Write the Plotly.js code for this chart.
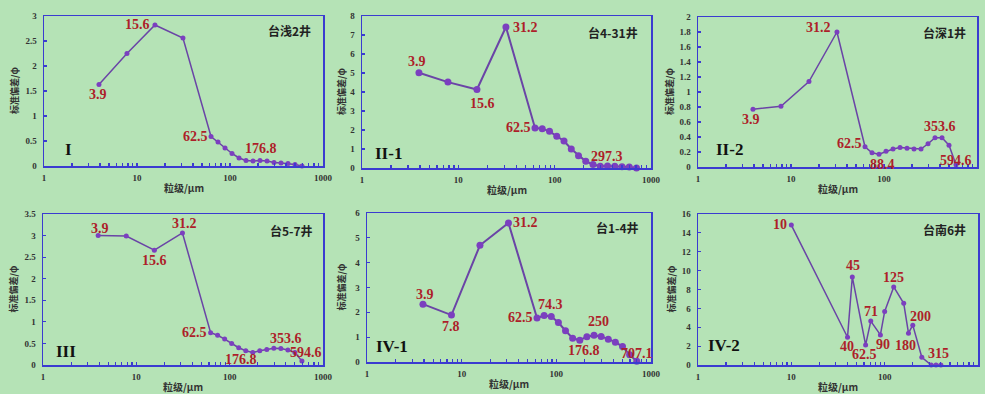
<!DOCTYPE html>
<html>
<head>
<meta charset="utf-8">
<script src="https://cdn.plot.ly/plotly-3.0.1.min.js"></script>
<style>html,body{margin:0;padding:0;background:#b5e3b6;}#chart{width:985px;height:394px;}</style>
</head>
<body>
<div id="chart"></div>
<script>
// ---- data ----
const x1 = [3.9,7.8,15.6,31.2,62.5,74.3,88.4,105.1,125,148.7,176.8,210.2,250,297.3,353.6,420.4,500,594.6];
const y1 = [1.63,2.25,2.82,2.56,0.59,0.48,0.36,0.25,0.16,0.11,0.10,0.11,0.10,0.07,0.06,0.05,0.03,0.0];
const x2 = [3.9,7.8,15.6,31.2,62.5,74.3,88.4,105.1,125,148.7,176.8,210.2,250,297.3,353.6,420.4,500,594.6,707.1];
const y2 = [5.01,4.52,4.13,7.42,2.11,2.07,1.93,1.67,1.42,1.0,0.65,0.35,0.18,0.09,0.1,0.09,0.07,0.05,0.0];
const x3 = [3.9,7.8,15.6,31.2,62.5,74.3,88.4,105.1,125,148.7,176.8,210.2,250,297.3,353.6,420.4,500,594.6];
const y3 = [0.77,0.81,1.14,1.80,0.27,0.19,0.17,0.21,0.24,0.26,0.25,0.24,0.24,0.31,0.39,0.39,0.29,0.03];
const x4 = [3.9,7.8,15.6,31.2,62.5,74.3,88.4,105.1,125,148.7,176.8,210.2,250,297.3,353.6,420.4,500,594.6];
const y4 = [3.0,2.99,2.66,3.06,0.75,0.69,0.60,0.50,0.40,0.33,0.29,0.33,0.36,0.39,0.38,0.35,0.29,0.09];
const x5 = [3.9,7.8,15.6,31.2,62.5,74.3,88.4,105.1,125,148.7,176.8,210.2,250,297.3,353.6,420.4,500,594.6,707.1];
const y5 = [2.33,1.89,4.7,5.6,1.77,1.87,1.83,1.59,1.26,0.96,0.88,1.02,1.08,1.03,0.92,0.80,0.62,0.29,0.03];
const x6 = [10,40,45,62.5,71,90,100,125,160,180,200,250,315,355,400];
const y6 = [14.83,2.94,9.33,2.13,4.65,3.19,5.68,8.27,6.53,3.37,4.22,0.82,0,0,0];

const lab1 = [3.9,15.6,62.5,176.8];
const lab2 = [3.9,15.6,31.2,62.5,297.3];
const lab3 = [3.9,31.2,62.5,88.4,353.6,594.6];
const lab4 = [3.9,15.6,31.2,62.5,176.8,353.6,594.6];
const lab5 = [3.9,7.8,31.2,62.5,74.3,176.8,250,707.1];
const lab6 = [10,40,45,62.5,71,90,125,180,200,315];

const zones = ["I","II-1","II-2","III","IV-1","IV-2"];
const wells = ["台浅2井","台4-31井","台深1井","台5-7井","台1-4井","台南6井"];
const yMax = [3,8,2,3.5,6,16];
const yStep = [0.5,1,0.2,0.5,1,2];
const xTitle = "粒级/μm";
const yTitle = "标准偏差/φ";
const xTickMajor = [1,10,100,1000];

// ---- layout geometry (pixels) ----
const W = 985, H = 394;
const boxes = [ // left, right, top, bottom
  [44,323,16,166],[362,651,16,168],[698,977,17,167],
  [43,323,214,365],[367,651,213,362],[698,978,214,365]
];
const offs = [
  [[-1,10],[-17,-1],[-16,0],[8,-13]],
  [[-2,-11],[6,14],[20,0],[-17,0],[7,-10]],
  [[-2,10],[-18,-4],[-16,-3],[3,10],[5,-11],[0,-4]],
  [[2,-7],[0,10],[2,-9],[-16,0],[-12,7],[5,-10],[4,-9]],
  [[2,-10],[0,11],[17,0],[-17,-1],[6,-11],[4,10],[4,-14],[0,-8]],
  [[-11,-1],[-1,9],[1,-11],[-1,10],[0,-10],[3,10],[0,-9],[-3,12],[8,-9],[7,-12]]
];
const zonePos = [[68,150],[388,153],[729,150],[66,351],[392,346],[724,345]];
const wellPos = [[313,31],[640,32],[968,33],[315,230],[641,228],[968,229]];
const yTitleShift = [-30,-20,-28,-30,-26,-27];
const mSize = [5,7,5,5,7,5];
const lWidth = [1.5,2,1.5,1.5,2,1.5];

const xs = [x1,x2,x3,x4,x5,x6];
const ys = [y1,y2,y3,y4,y5,y6];
const labs = [lab1,lab2,lab3,lab4,lab5,lab6];

const blue = '#3b3bd0', purple = '#6a44a6', red = '#ad1f2a', bg = '#b5e3b6';
const serif = 'Liberation Serif, Times New Roman, serif';
const cjk = 'Noto Sans CJK SC, sans-serif';

// minor+major tick positions on log axis
const xTickVals = [], xTickText = [];
for (let d = 1; d <= 100; d *= 10) {
  for (let k = 1; k <= 9; k++) { xTickVals.push(k*d); xTickText.push(k===1 ? String(d) : ''); }
}
xTickVals.push(1000); xTickText.push('1000');

const data = [], annotations = [];
const layout = {
  width: W, height: H,
  paper_bgcolor: bg, plot_bgcolor: bg,
  margin: {l:0,r:0,t:0,b:0},
  showlegend: false,
  annotations: annotations
};

for (let i = 0; i < 6; i++) {
  const n = i === 0 ? '' : String(i+1);
  const xa = 'xaxis' + n, ya = 'yaxis' + n;
  const xr = 'x' + n, yr = 'y' + n;
  const [l,r,t,b] = boxes[i];
  data.push({
    type: 'scatter', mode: 'lines+markers', x: xs[i], y: ys[i],
    xaxis: xr, yaxis: yr, cliponaxis: false,
    line: {color: purple, width: lWidth[i]},
    marker: {color: '#7b3fbf', size: mSize[i]}
  });
  layout[xa] = {
    domain: [l/W, r/W], anchor: yr, type: 'log', range: [0,3],
    showline: true, mirror: true, linecolor: blue, linewidth: 1.5,
    showgrid: false, zeroline: false,
    ticks: 'inside', ticklen: 3, tickcolor: blue, tickwidth: 1.2,
    tickvals: xTickVals, ticktext: xTickText,
    tickfont: {family: serif, size: 9, color: '#333', weight: 'bold'},
    ticklabelstandoff: 3
  };
  const yv = [];
  for (let v = 0; v <= yMax[i] + 1e-9; v += yStep[i]) yv.push(+v.toFixed(2));
  layout[ya] = {
    domain: [1 - b/H, 1 - t/H], anchor: xr, range: [0, yMax[i]],
    showline: true, mirror: true, linecolor: blue, linewidth: 1.5,
    showgrid: false, zeroline: false,
    ticks: 'inside', ticklen: 3, tickcolor: blue, tickwidth: 1.2,
    tickvals: yv,
    tickfont: {family: serif, size: 9, color: '#333', weight: 'bold'},
    ticklabelstandoff: 4
  };
  // data labels
  labs[i].forEach((v, j) => {
    const k = xs[i].indexOf(v);
    annotations.push({
      xref: xr, yref: yr, x: Math.log10(v), y: ys[i][k],
      text: String(v), showarrow: false,
      xanchor: 'center', yanchor: 'middle',
      xshift: offs[i][j][0], yshift: -offs[i][j][1],
      font: {family: serif, size: 14, color: red, weight: 'bold'}
    });
  });
  // zone label
  annotations.push({
    xref: 'paper', yref: 'paper', x: zonePos[i][0]/W, y: 1 - zonePos[i][1]/H,
    text: zones[i], showarrow: false, xanchor: 'center', yanchor: 'middle',
    font: {family: serif, size: 17, color: '#111', weight: 'bold'}
  });
  // well name
  annotations.push({
    xref: 'paper', yref: 'paper', x: wellPos[i][0]/W, y: 1 - wellPos[i][1]/H,
    text: wells[i], showarrow: false, xanchor: 'right', yanchor: 'middle',
    font: {family: cjk, size: 12, color: '#222', weight: 'bold'}
  });
  // axis titles
  annotations.push({
    xref: xr + ' domain', yref: yr + ' domain', x: 0.5, y: 0,
    text: xTitle, showarrow: false, xanchor: 'center', yanchor: 'top', yshift: -12,
    font: {family: cjk, size: 10, color: '#333', weight: 'bold'}
  });
  annotations.push({
    xref: xr + ' domain', yref: yr + ' domain', x: 0, y: 0.5,
    text: yTitle, showarrow: false, textangle: -90,
    xanchor: 'center', yanchor: 'middle', xshift: yTitleShift[i],
    font: {family: cjk, size: 9, color: '#333', weight: 'bold'}
  });
}

Plotly.newPlot('chart', data, layout, {staticPlot: true, displayModeBar: false});
</script>
</body>
</html>
